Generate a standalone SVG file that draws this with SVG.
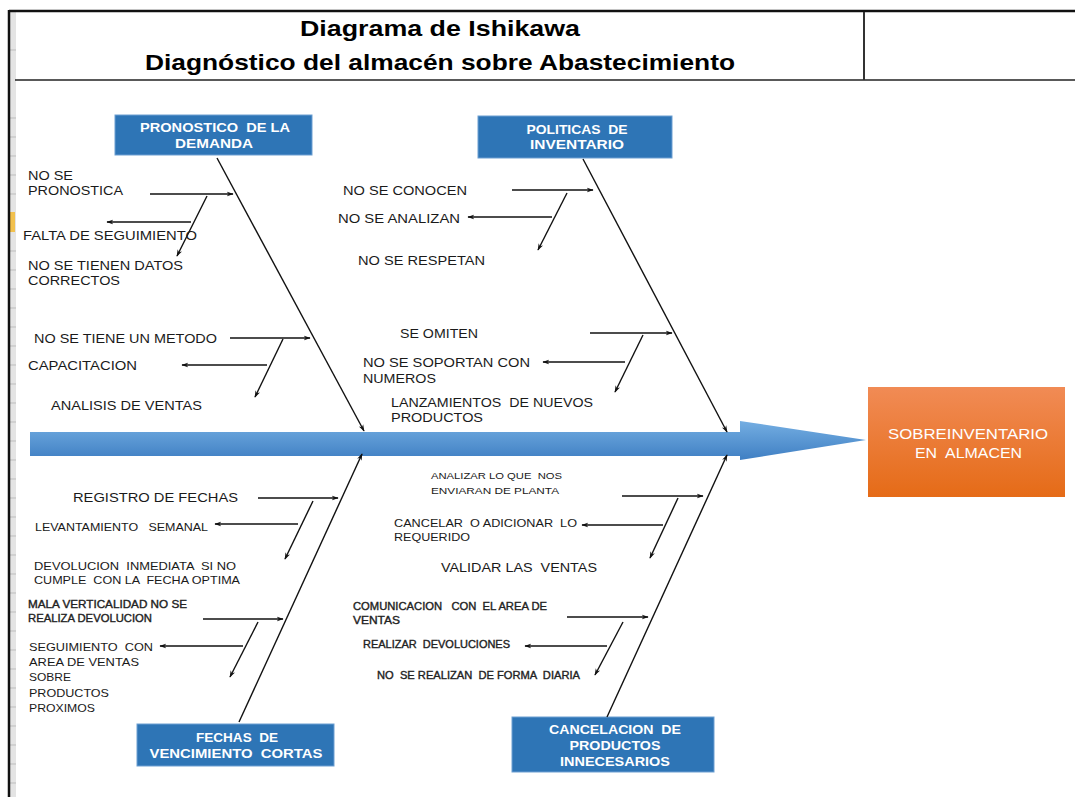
<svg xmlns="http://www.w3.org/2000/svg" width="1075" height="797" viewBox="0 0 1075 797">
<defs>
<style>
.t{font-family:"Liberation Sans",Arial,sans-serif;fill:#1a1a1a;white-space:pre}
.sm{fill:#222;stroke:#222;stroke-width:0.35}
.title{font-family:"Liberation Sans",Arial,sans-serif;font-weight:bold;font-size:22px;fill:#000}
.cat{font-family:"Liberation Sans",Arial,sans-serif;font-weight:bold;font-size:13px;fill:#fff;text-anchor:middle;white-space:pre}
.box{fill:#2E75B6;stroke:#6C9FD2;stroke-width:1}
.sub{stroke:#111;stroke-width:1.4;fill:none;marker-end:url(#ah)}
</style>
<marker id="ah" viewBox="0 0 10 10" refX="9" refY="5" markerWidth="7" markerHeight="7" markerUnits="userSpaceOnUse" orient="auto">
<path d="M0,1.5 L10,5 L0,8.5 L3,5 Z" fill="#111"/>
</marker>
<linearGradient id="spine" x1="0" y1="0" x2="0" y2="1">
<stop offset="0" stop-color="#74AEE2"/>
<stop offset="1" stop-color="#3F7FC3"/>
</linearGradient>
<linearGradient id="eff" x1="0" y1="0" x2="0" y2="1">
<stop offset="0" stop-color="#F18B55"/>
<stop offset="1" stop-color="#E56B17"/>
</linearGradient>
</defs>

<!-- frame -->
<g id="frame">
<rect x="10" y="12" width="6" height="785" fill="#e4e4e4"/>
<g stroke="#bdbdbd" stroke-width="1">
<line x1="10" y1="50" x2="16" y2="50"/><line x1="10" y1="118" x2="16" y2="118"/><line x1="10" y1="137" x2="16" y2="137"/><line x1="10" y1="156" x2="16" y2="156"/><line x1="10" y1="175" x2="16" y2="175"/><line x1="10" y1="194" x2="16" y2="194"/><line x1="10" y1="251" x2="16" y2="251"/><line x1="10" y1="270" x2="16" y2="270"/><line x1="10" y1="289" x2="16" y2="289"/><line x1="10" y1="308" x2="16" y2="308"/><line x1="10" y1="327" x2="16" y2="327"/><line x1="10" y1="346" x2="16" y2="346"/><line x1="10" y1="365" x2="16" y2="365"/><line x1="10" y1="384" x2="16" y2="384"/><line x1="10" y1="403" x2="16" y2="403"/><line x1="10" y1="422" x2="16" y2="422"/><line x1="10" y1="441" x2="16" y2="441"/><line x1="10" y1="460" x2="16" y2="460"/><line x1="10" y1="479" x2="16" y2="479"/><line x1="10" y1="498" x2="16" y2="498"/><line x1="10" y1="517" x2="16" y2="517"/><line x1="10" y1="536" x2="16" y2="536"/><line x1="10" y1="555" x2="16" y2="555"/><line x1="10" y1="574" x2="16" y2="574"/><line x1="10" y1="593" x2="16" y2="593"/><line x1="10" y1="612" x2="16" y2="612"/><line x1="10" y1="631" x2="16" y2="631"/><line x1="10" y1="650" x2="16" y2="650"/><line x1="10" y1="669" x2="16" y2="669"/><line x1="10" y1="688" x2="16" y2="688"/><line x1="10" y1="707" x2="16" y2="707"/><line x1="10" y1="726" x2="16" y2="726"/><line x1="10" y1="745" x2="16" y2="745"/><line x1="10" y1="764" x2="16" y2="764"/><line x1="10" y1="783" x2="16" y2="783"/>
</g>
<rect x="10" y="212" width="5" height="20" fill="#F2C14E"/>
<line x1="9" y1="11" x2="1075" y2="11" stroke="#111" stroke-width="2.5"/>
<line x1="9" y1="10" x2="9" y2="797" stroke="#111" stroke-width="2.5"/>
<line x1="15" y1="80" x2="1075" y2="80" stroke="#222" stroke-width="1.5"/>
<line x1="864" y1="12" x2="864" y2="80" stroke="#333" stroke-width="2"/>
<text class="title" x="440" y="36" text-anchor="middle" textLength="280" lengthAdjust="spacingAndGlyphs">Diagrama de Ishikawa</text>
<text class="title" x="440" y="70" text-anchor="middle" textLength="590" lengthAdjust="spacingAndGlyphs">Diagnóstico del almacén sobre Abastecimiento</text>
</g>

<!-- spine -->
<g id="spine">
<path d="M30,432 L740,432 L740,421 L866,440 L740,460 L740,456 L30,456 Z" fill="url(#spine)"/>
</g>

<!-- effect -->
<g id="effect">
<rect x="868" y="387" width="197" height="110" fill="url(#eff)"/>
<text class="t" x="888" y="439" font-size="14" style="fill:#fff" textLength="160" lengthAdjust="spacingAndGlyphs">SOBREINVENTARIO</text>
<text class="t" x="915" y="458" font-size="14" style="fill:#fff" textLength="107" lengthAdjust="spacingAndGlyphs">EN  ALMACEN</text>
</g>

<!-- category nodes -->
<g id="cat-pronostico">
<rect class="box" x="115" y="115" width="197" height="40"/>
<text class="cat" x="215" y="132" textLength="150" lengthAdjust="spacingAndGlyphs">PRONOSTICO  DE LA</text>
<text class="cat" x="214" y="148" textLength="78" lengthAdjust="spacingAndGlyphs">DEMANDA</text>
</g>
<g id="cat-politicas">
<rect class="box" x="478" y="116" width="194" height="42"/>
<text class="cat" x="577" y="134" textLength="101" lengthAdjust="spacingAndGlyphs">POLITICAS  DE</text>
<text class="cat" x="577" y="149" textLength="94" lengthAdjust="spacingAndGlyphs">INVENTARIO</text>
</g>
<g id="cat-fechas">
<rect class="box" x="137" y="724" width="197" height="42"/>
<text class="cat" x="237" y="742" textLength="82" lengthAdjust="spacingAndGlyphs">FECHAS  DE</text>
<text class="cat" x="236" y="758" textLength="173" lengthAdjust="spacingAndGlyphs">VENCIMIENTO  CORTAS</text>
</g>
<g id="cat-cancelacion">
<rect class="box" x="512" y="717" width="202" height="55"/>
<text class="cat" x="615" y="734" textLength="132" lengthAdjust="spacingAndGlyphs">CANCELACION  DE</text>
<text class="cat" x="615" y="750" textLength="91" lengthAdjust="spacingAndGlyphs">PRODUCTOS</text>
<text class="cat" x="615" y="766" textLength="110" lengthAdjust="spacingAndGlyphs">INNECESARIOS</text>
</g>

<!-- connectors -->
<g id="connectors">
<line class="sub" x1="217" y1="158" x2="364" y2="431"/>
<line class="sub" x1="583" y1="159" x2="727" y2="432"/>
<line class="sub" x1="239" y1="722" x2="362" y2="454"/>
<line class="sub" x1="607" y1="717" x2="727" y2="455"/>

<line class="sub" x1="150" y1="194" x2="233" y2="194"/>
<line class="sub" x1="207" y1="196" x2="177" y2="256"/>
<line class="sub" x1="191" y1="222" x2="107" y2="222"/>
<line class="sub" x1="230" y1="338" x2="310" y2="338"/>
<line class="sub" x1="283" y1="339" x2="255" y2="397"/>
<line class="sub" x1="267" y1="365" x2="182" y2="365"/>
<line class="sub" x1="512" y1="190" x2="593" y2="190"/>
<line class="sub" x1="567" y1="193" x2="538" y2="250"/>
<line class="sub" x1="552" y1="217" x2="468" y2="217"/>
<line class="sub" x1="590" y1="333" x2="672" y2="333"/>
<line class="sub" x1="643" y1="335" x2="615" y2="392"/>
<line class="sub" x1="625" y1="362" x2="543" y2="362"/>
<line class="sub" x1="258" y1="498" x2="338" y2="498"/>
<line class="sub" x1="313" y1="501" x2="285" y2="559"/>
<line class="sub" x1="298" y1="524" x2="215" y2="524"/>
<line class="sub" x1="203" y1="619" x2="283" y2="619"/>
<line class="sub" x1="258" y1="622" x2="230" y2="677"/>
<line class="sub" x1="243" y1="646" x2="160" y2="646"/>
<line class="sub" x1="622" y1="496" x2="703" y2="496"/>
<line class="sub" x1="678" y1="498" x2="650" y2="558"/>
<line class="sub" x1="663" y1="525" x2="582" y2="525"/>
<line class="sub" x1="567" y1="617" x2="648" y2="617"/>
<line class="sub" x1="623" y1="622" x2="595" y2="675"/>
<line class="sub" x1="607" y1="646" x2="525" y2="646"/>
</g>

<!-- cause labels -->
<g id="labels-pronostico" font-size="13.5">
<text class="t" x="28" y="180" textLength="45" lengthAdjust="spacingAndGlyphs">NO SE</text>
<text class="t" x="28" y="195" textLength="95" lengthAdjust="spacingAndGlyphs">PRONOSTICA</text>
<text class="t" x="23" y="240" textLength="174" lengthAdjust="spacingAndGlyphs">FALTA DE SEGUIMIENTO</text>
<text class="t" x="28" y="270" textLength="155" lengthAdjust="spacingAndGlyphs">NO SE TIENEN DATOS</text>
<text class="t" x="28" y="285" textLength="92" lengthAdjust="spacingAndGlyphs">CORRECTOS</text>
<text class="t" x="34" y="343" textLength="183" lengthAdjust="spacingAndGlyphs">NO SE TIENE UN METODO</text>
<text class="t" x="28" y="370" textLength="109" lengthAdjust="spacingAndGlyphs">CAPACITACION</text>
<text class="t" x="51" y="410" textLength="151" lengthAdjust="spacingAndGlyphs">ANALISIS DE VENTAS</text>
</g>
<g id="labels-politicas" font-size="13.5">
<text class="t" x="343" y="195" textLength="124" lengthAdjust="spacingAndGlyphs">NO SE CONOCEN</text>
<text class="t" x="338" y="223" textLength="122" lengthAdjust="spacingAndGlyphs">NO SE ANALIZAN</text>
<text class="t" x="358" y="265" textLength="127" lengthAdjust="spacingAndGlyphs">NO SE RESPETAN</text>
<text class="t" x="400" y="338" textLength="78" lengthAdjust="spacingAndGlyphs">SE OMITEN</text>
<text class="t" x="363" y="367" textLength="167" lengthAdjust="spacingAndGlyphs">NO SE SOPORTAN CON</text>
<text class="t" x="363" y="383" textLength="73" lengthAdjust="spacingAndGlyphs">NUMEROS</text>
<text class="t" x="391" y="407" textLength="202" lengthAdjust="spacingAndGlyphs">LANZAMIENTOS  DE NUEVOS</text>
<text class="t" x="391" y="422" textLength="92" lengthAdjust="spacingAndGlyphs">PRODUCTOS</text>
</g>
<g id="labels-fechas">
<text class="t" x="73" y="502" font-size="13.5" textLength="165" lengthAdjust="spacingAndGlyphs">REGISTRO DE FECHAS</text>
<text class="t" x="35" y="531" font-size="11.5" textLength="173" lengthAdjust="spacingAndGlyphs">LEVANTAMIENTO   SEMANAL</text>
<text class="t" x="34" y="570" font-size="11.5" textLength="202" lengthAdjust="spacingAndGlyphs">DEVOLUCION  INMEDIATA  SI NO</text>
<text class="t" x="34" y="584" font-size="11.5" textLength="206" lengthAdjust="spacingAndGlyphs">CUMPLE  CON LA  FECHA OPTIMA</text>
<text class="t sm" x="28" y="608" font-size="10" textLength="159" lengthAdjust="spacingAndGlyphs">MALA VERTICALIDAD NO SE</text>
<text class="t sm" x="28" y="622" font-size="10" textLength="124" lengthAdjust="spacingAndGlyphs">REALIZA DEVOLUCION</text>
<text class="t" x="29" y="651" font-size="11.5" textLength="124" lengthAdjust="spacingAndGlyphs">SEGUIMIENTO  CON</text>
<text class="t" x="29" y="666" font-size="11.5" textLength="110" lengthAdjust="spacingAndGlyphs">AREA DE VENTAS</text>
<text class="t" x="29" y="681" font-size="11.5" textLength="42" lengthAdjust="spacingAndGlyphs">SOBRE</text>
<text class="t" x="29" y="697" font-size="11.5" textLength="80" lengthAdjust="spacingAndGlyphs">PRODUCTOS</text>
<text class="t" x="29" y="712" font-size="11.5" textLength="66" lengthAdjust="spacingAndGlyphs">PROXIMOS</text>
</g>
<g id="labels-cancelacion">
<text class="t" x="431" y="479" font-size="9.5" textLength="131" lengthAdjust="spacingAndGlyphs">ANALIZAR LO QUE  NOS</text>
<text class="t" x="431" y="494" font-size="9.5" textLength="128" lengthAdjust="spacingAndGlyphs">ENVIARAN DE PLANTA</text>
<text class="t" x="394" y="527" font-size="11.5" textLength="183" lengthAdjust="spacingAndGlyphs">CANCELAR  O ADICIONAR  LO</text>
<text class="t" x="394" y="541" font-size="11.5" textLength="76" lengthAdjust="spacingAndGlyphs">REQUERIDO</text>
<text class="t" x="441" y="572" font-size="13.5" textLength="156" lengthAdjust="spacingAndGlyphs">VALIDAR LAS  VENTAS</text>
<text class="t sm" x="353" y="610" font-size="10" textLength="194" lengthAdjust="spacingAndGlyphs">COMUNICACION   CON  EL AREA DE</text>
<text class="t sm" x="353" y="624" font-size="10" textLength="47" lengthAdjust="spacingAndGlyphs">VENTAS</text>
<text class="t sm" x="363" y="648" font-size="10" textLength="147" lengthAdjust="spacingAndGlyphs">REALIZAR  DEVOLUCIONES</text>
<text class="t sm" x="377" y="679" font-size="10" textLength="203" lengthAdjust="spacingAndGlyphs">NO  SE REALIZAN  DE FORMA  DIARIA</text>
</g>
</svg>
